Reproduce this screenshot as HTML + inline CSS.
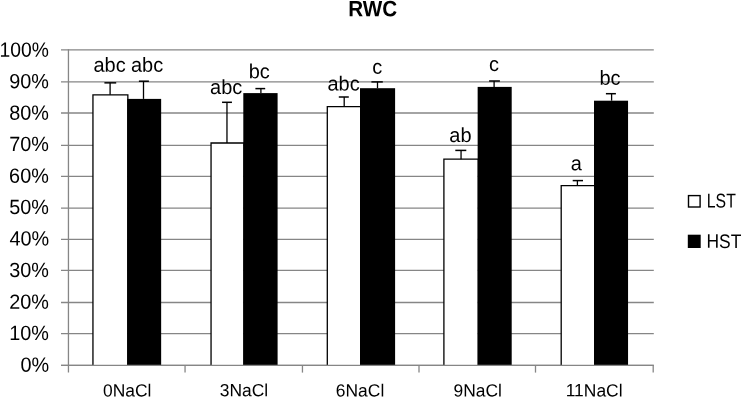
<!DOCTYPE html>
<html><head><meta charset="utf-8"><style>
html,body{margin:0;padding:0;background:#fff;width:742px;height:398px;overflow:hidden;}
svg{display:block;will-change:transform;font-family:"Liberation Sans",sans-serif;filter:blur(0.35px);}
</style></head><body>
<svg width="742" height="398" viewBox="0 0 742 398">
<rect x="0" y="0" width="742" height="398" fill="#fff"/>
<line x1="61" y1="49.90" x2="653.80" y2="49.90" stroke="#868686" stroke-width="1.3"/>
<line x1="61" y1="81.90" x2="653.80" y2="81.90" stroke="#868686" stroke-width="1.3"/>
<line x1="61" y1="113.00" x2="653.80" y2="113.00" stroke="#868686" stroke-width="1.3"/>
<line x1="61" y1="145.40" x2="653.80" y2="145.40" stroke="#868686" stroke-width="1.3"/>
<line x1="61" y1="176.35" x2="653.80" y2="176.35" stroke="#868686" stroke-width="1.3"/>
<line x1="61" y1="208.10" x2="653.80" y2="208.10" stroke="#868686" stroke-width="1.3"/>
<line x1="61" y1="239.35" x2="653.80" y2="239.35" stroke="#868686" stroke-width="1.3"/>
<line x1="61" y1="270.35" x2="653.80" y2="270.35" stroke="#868686" stroke-width="1.3"/>
<line x1="61" y1="302.50" x2="653.80" y2="302.50" stroke="#868686" stroke-width="1.3"/>
<line x1="61" y1="333.60" x2="653.80" y2="333.60" stroke="#868686" stroke-width="1.3"/>
<line x1="61" y1="365.40" x2="653.80" y2="365.40" stroke="#868686" stroke-width="1.3"/>
<line x1="68.45" y1="49.30" x2="68.45" y2="372.6" stroke="#868686" stroke-width="1.3"/>
<line x1="185.05" y1="365.40" x2="185.05" y2="372.6" stroke="#868686" stroke-width="1.3"/>
<line x1="302.45" y1="365.40" x2="302.45" y2="372.6" stroke="#868686" stroke-width="1.3"/>
<line x1="419.00" y1="365.40" x2="419.00" y2="372.6" stroke="#868686" stroke-width="1.3"/>
<line x1="535.50" y1="365.40" x2="535.50" y2="372.6" stroke="#868686" stroke-width="1.3"/>
<line x1="653.20" y1="365.40" x2="653.20" y2="372.6" stroke="#868686" stroke-width="1.3"/>
<rect x="92.95" y="94.80" width="34.25" height="270.60" fill="#fff"/>
<path d="M92.95,365.40V94.80H127.85V365.40" fill="none" stroke="#000" stroke-width="1.3"/>
<rect x="127.20" y="98.90" width="33.95" height="266.50" fill="#000"/>
<line x1="110.10" y1="94.80" x2="110.10" y2="82.85" stroke="#000" stroke-width="1.3"/>
<line x1="104.40" y1="82.85" x2="116.20" y2="82.85" stroke="#000" stroke-width="1.5"/>
<line x1="143.50" y1="98.90" x2="143.50" y2="81.20" stroke="#000" stroke-width="1.3"/>
<line x1="138.90" y1="81.20" x2="148.90" y2="81.20" stroke="#000" stroke-width="1.5"/>
<rect x="211.05" y="143.00" width="32.25" height="222.40" fill="#fff"/>
<path d="M211.05,365.40V143.00H243.95V365.40" fill="none" stroke="#000" stroke-width="1.3"/>
<rect x="243.30" y="93.10" width="34.30" height="272.30" fill="#000"/>
<line x1="226.97" y1="143.00" x2="226.97" y2="102.30" stroke="#000" stroke-width="1.3"/>
<line x1="222.05" y1="102.30" x2="231.95" y2="102.30" stroke="#000" stroke-width="1.5"/>
<line x1="260.90" y1="93.10" x2="260.90" y2="88.60" stroke="#000" stroke-width="1.3"/>
<line x1="255.40" y1="88.60" x2="265.20" y2="88.60" stroke="#000" stroke-width="1.5"/>
<rect x="327.30" y="106.60" width="32.70" height="258.80" fill="#fff"/>
<path d="M327.30,365.40V106.60H360.65V365.40" fill="none" stroke="#000" stroke-width="1.3"/>
<rect x="360.00" y="88.20" width="35.10" height="277.20" fill="#000"/>
<line x1="344.20" y1="106.60" x2="344.20" y2="97.00" stroke="#000" stroke-width="1.3"/>
<line x1="338.80" y1="97.00" x2="348.80" y2="97.00" stroke="#000" stroke-width="1.5"/>
<line x1="377.50" y1="88.20" x2="377.50" y2="81.90" stroke="#000" stroke-width="1.3"/>
<line x1="371.40" y1="81.90" x2="382.80" y2="81.90" stroke="#000" stroke-width="1.5"/>
<rect x="443.90" y="159.20" width="33.75" height="206.20" fill="#fff"/>
<path d="M443.90,365.40V159.20H478.30V365.40" fill="none" stroke="#000" stroke-width="1.3"/>
<rect x="477.65" y="86.90" width="34.05" height="278.50" fill="#000"/>
<line x1="461.05" y1="159.20" x2="461.05" y2="150.40" stroke="#000" stroke-width="1.3"/>
<line x1="455.30" y1="150.40" x2="466.30" y2="150.40" stroke="#000" stroke-width="1.5"/>
<line x1="494.10" y1="86.90" x2="494.10" y2="81.00" stroke="#000" stroke-width="1.3"/>
<line x1="489.10" y1="81.00" x2="499.90" y2="81.00" stroke="#000" stroke-width="1.5"/>
<rect x="561.20" y="185.60" width="32.80" height="179.80" fill="#fff"/>
<path d="M561.20,365.40V185.60H594.65V365.40" fill="none" stroke="#000" stroke-width="1.3"/>
<rect x="594.00" y="100.70" width="34.05" height="264.70" fill="#000"/>
<line x1="577.40" y1="185.60" x2="577.40" y2="180.60" stroke="#000" stroke-width="1.3"/>
<line x1="572.70" y1="180.60" x2="583.00" y2="180.60" stroke="#000" stroke-width="1.5"/>
<line x1="611.60" y1="100.70" x2="611.60" y2="93.70" stroke="#000" stroke-width="1.3"/>
<line x1="605.90" y1="93.70" x2="615.90" y2="93.70" stroke="#000" stroke-width="1.5"/>
<line x1="61" y1="365.40" x2="653.80" y2="365.40" stroke="#868686" stroke-width="1.3"/>
<rect x="688.5" y="195.6" width="11.6" height="11.4" fill="#fff" stroke="#000" stroke-width="1.4"/>
<rect x="687.8" y="234.7" width="12.9" height="13.3" fill="#000"/>
<text transform="translate(348.259,16.163) rotate(0.05) scale(0.9300,1)" font-family="'Liberation Sans', sans-serif" font-size="22.20" font-weight="bold" fill="#000">RWC</text>
<text transform="translate(103.064,396.384) rotate(0.05) scale(0.9845,1)" font-family="'Liberation Sans', sans-serif" font-size="17.70" fill="#000">0NaCl</text>
<text transform="translate(219.775,396.298) rotate(0.05) scale(0.9845,1)" font-family="'Liberation Sans', sans-serif" font-size="17.70" fill="#000">3NaCl</text>
<text transform="translate(335.870,396.451) rotate(0.05) scale(0.9845,1)" font-family="'Liberation Sans', sans-serif" font-size="17.70" fill="#000">6NaCl</text>
<text transform="translate(453.487,396.439) rotate(0.05) scale(0.9845,1)" font-family="'Liberation Sans', sans-serif" font-size="17.70" fill="#000">9NaCl</text>
<text transform="translate(565.733,396.363) rotate(0.05) scale(0.9845,1)" font-family="'Liberation Sans', sans-serif" font-size="17.70" fill="#000">11NaCl</text>
<text transform="translate(706.825,207.423) rotate(0.05) scale(0.7900,1)" font-family="'Liberation Sans', sans-serif" font-size="20.00" fill="#000">LST</text>
<text transform="translate(706.477,247.872) rotate(0.05) scale(0.8900,1)" font-family="'Liberation Sans', sans-serif" font-size="19.60" fill="#000">HST</text>
<text transform="translate(93.497,71.669) rotate(0.05) scale(0.9793,1)" font-family="'Liberation Sans', sans-serif" font-size="20.40" fill="#000">abc</text>
<text transform="translate(131.009,71.641) rotate(0.05) scale(0.9793,1)" font-family="'Liberation Sans', sans-serif" font-size="20.40" fill="#000">abc</text>
<text transform="translate(210.078,94.073) rotate(0.05) scale(0.9793,1)" font-family="'Liberation Sans', sans-serif" font-size="20.40" fill="#000">abc</text>
<text transform="translate(248.635,78.330) rotate(0.05) scale(0.9793,1)" font-family="'Liberation Sans', sans-serif" font-size="20.40" fill="#000">bc</text>
<text transform="translate(327.499,90.537) rotate(0.05) scale(0.9793,1)" font-family="'Liberation Sans', sans-serif" font-size="20.40" fill="#000">abc</text>
<text transform="translate(372.218,73.708) rotate(0.05) scale(0.9793,1)" font-family="'Liberation Sans', sans-serif" font-size="20.40" fill="#000">c</text>
<text transform="translate(449.334,142.077) rotate(0.05) scale(0.9793,1)" font-family="'Liberation Sans', sans-serif" font-size="20.40" fill="#000">ab</text>
<text transform="translate(489.085,70.899) rotate(0.05) scale(0.9793,1)" font-family="'Liberation Sans', sans-serif" font-size="20.40" fill="#000">c</text>
<text transform="translate(570.721,170.225) rotate(0.05) scale(0.9793,1)" font-family="'Liberation Sans', sans-serif" font-size="20.40" fill="#000">a</text>
<text transform="translate(599.470,84.853) rotate(0.05) scale(0.9793,1)" font-family="'Liberation Sans', sans-serif" font-size="20.40" fill="#000">bc</text>
<text transform="translate(-0.427,56.779) rotate(0.05) scale(0.9350,1)" font-family="'Liberation Sans', sans-serif" font-size="20.60" fill="#000">100%</text>
<text transform="translate(9.152,88.147) rotate(0.05) scale(0.9626,1)" font-family="'Liberation Sans', sans-serif" font-size="20.60" fill="#000">90%</text>
<text transform="translate(9.232,119.698) rotate(0.05) scale(0.9626,1)" font-family="'Liberation Sans', sans-serif" font-size="20.60" fill="#000">80%</text>
<text transform="translate(9.285,151.038) rotate(0.05) scale(0.9626,1)" font-family="'Liberation Sans', sans-serif" font-size="20.60" fill="#000">70%</text>
<text transform="translate(9.107,182.705) rotate(0.05) scale(0.9626,1)" font-family="'Liberation Sans', sans-serif" font-size="20.60" fill="#000">60%</text>
<text transform="translate(9.130,214.053) rotate(0.05) scale(0.9626,1)" font-family="'Liberation Sans', sans-serif" font-size="20.60" fill="#000">50%</text>
<text transform="translate(9.440,245.604) rotate(0.05) scale(0.9626,1)" font-family="'Liberation Sans', sans-serif" font-size="20.60" fill="#000">40%</text>
<text transform="translate(9.187,277.021) rotate(0.05) scale(0.9626,1)" font-family="'Liberation Sans', sans-serif" font-size="20.60" fill="#000">30%</text>
<text transform="translate(9.201,308.703) rotate(0.05) scale(0.9626,1)" font-family="'Liberation Sans', sans-serif" font-size="20.60" fill="#000">20%</text>
<text transform="translate(9.294,340.083) rotate(0.05) scale(0.9626,1)" font-family="'Liberation Sans', sans-serif" font-size="20.60" fill="#000">10%</text>
<text transform="translate(20.467,371.667) rotate(0.05) scale(0.9626,1)" font-family="'Liberation Sans', sans-serif" font-size="20.60" fill="#000">0%</text>
</svg>
</body></html>
